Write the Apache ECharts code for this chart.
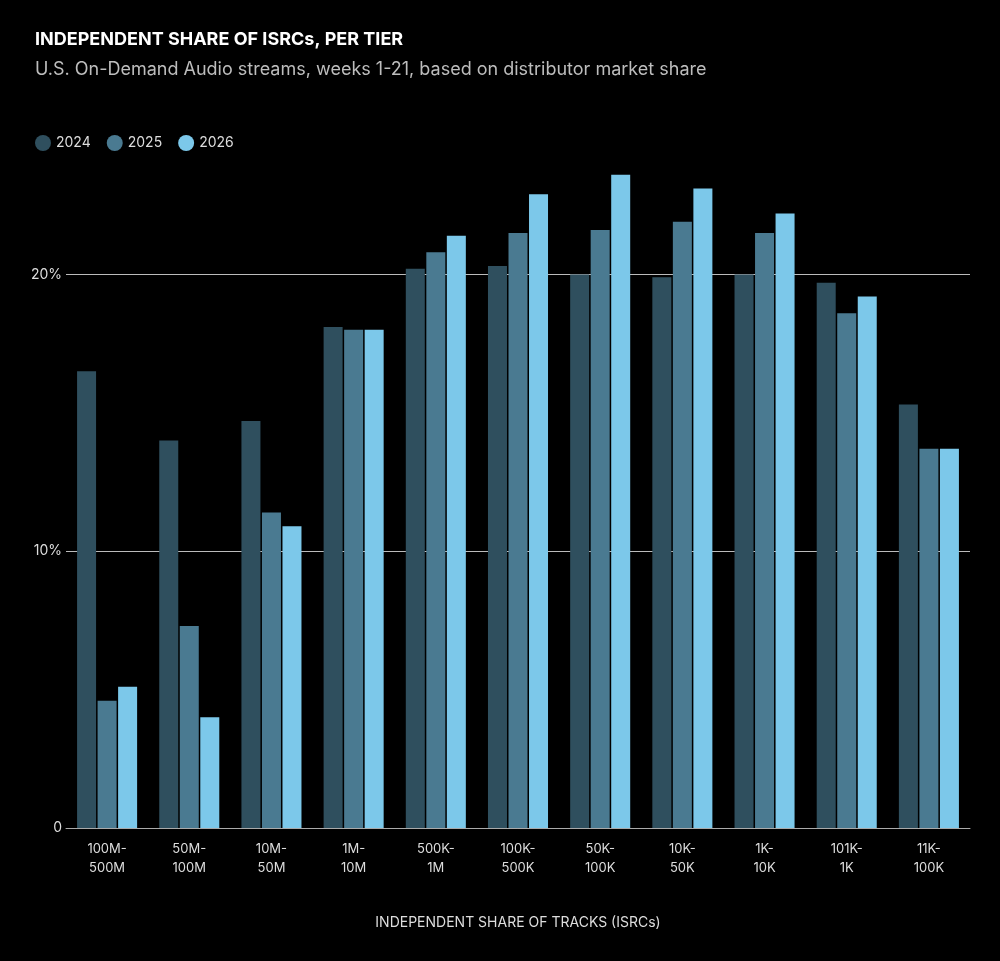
<!DOCTYPE html>
<html><head><meta charset="utf-8">
<script src="https://cdn.jsdelivr.net/npm/echarts@6/dist/echarts.min.js"></script>
<style>html,body{margin:0;background:#000}#c{width:1000px;height:961px}</style>
</head><body><div id="c"></div>
<script>
var tiers = ['100M-\n500M', '50M-\n100M', '10M-\n50M', '1M-\n10M', '500K-\n1M', '100K-\n500K', '50K-\n100K', '10K-\n50K', '1K-\n10K', '101K-\n1K', '11K-\n100K'];
var s2024 = [16.5, 14.0, 14.7, 18.1, 20.2, 20.3, 20.0, 19.9, 20.0, 19.7, 15.3];
var s2025 = [4.6, 7.3, 11.4, 18.0, 20.8, 21.5, 21.6, 21.9, 21.5, 18.6, 13.7];
var s2026 = [5.1, 4.0, 10.9, 18.0, 21.4, 22.9, 23.6, 23.1, 22.2, 19.2, 13.7];
var colors = ['#2f4f5e', '#4a7a91', '#7cc8ea'];

var chart = echarts.init(document.getElementById('c'));
var font = 'Inter';
function bar(name, data, i) {
    return { name: name, type: 'bar', data: data, barWidth: 19, barGap: '8%', itemStyle: { color: colors[i] } };
}
chart.setOption({
    backgroundColor: '#000',
    textStyle: { fontFamily: font },
    title: {
        text: 'INDEPENDENT SHARE OF ISRCs, PER TIER',
        subtext: 'U.S. On-Demand Audio streams, weeks 1-21, based on distributor market share',
        left: 30, top: 26, itemGap: 12,
        textStyle: { color: '#fff', fontSize: 18, fontWeight: 'bold', fontFamily: font },
        subtextStyle: { color: '#bdbdbd', fontSize: 18, fontFamily: font }
    },
    legend: {
        left: 30, top: 130, icon: 'circle', itemWidth: 16, itemHeight: 16, itemGap: 16,
        textStyle: { color: '#ddd', fontSize: 14, fontFamily: font },
        data: ['2024', '2025', '2026']
    },
    grid: { left: 66, right: 30, top: 136, bottom: 133 },
    xAxis: {
        type: 'category', data: tiers,
        name: 'INDEPENDENT SHARE OF TRACKS (ISRCs)', nameLocation: 'middle', nameGap: 88,
        nameTextStyle: { color: '#ddd', fontSize: 14, fontFamily: font },
        axisLine: { lineStyle: { color: '#aaa' } }, axisTick: { show: false },
        axisLabel: { color: '#ddd', fontSize: 13, lineHeight: 19, margin: 12 }
    },
    yAxis: {
        type: 'value', min: 0, max: 25, interval: 10,
        axisLabel: { color: '#ddd', fontSize: 14, margin: 4, showMaxLabel: false,
            formatter: function (v) { return v === 0 ? '0' : v + '%'; } },
        splitLine: { showMinLine: false, showMaxLine: false, lineStyle: { color: '#bbb' } }
    },
    series: [bar('2024', s2024, 0), bar('2025', s2025, 1), bar('2026', s2026, 2)]
});
</script></body></html>
